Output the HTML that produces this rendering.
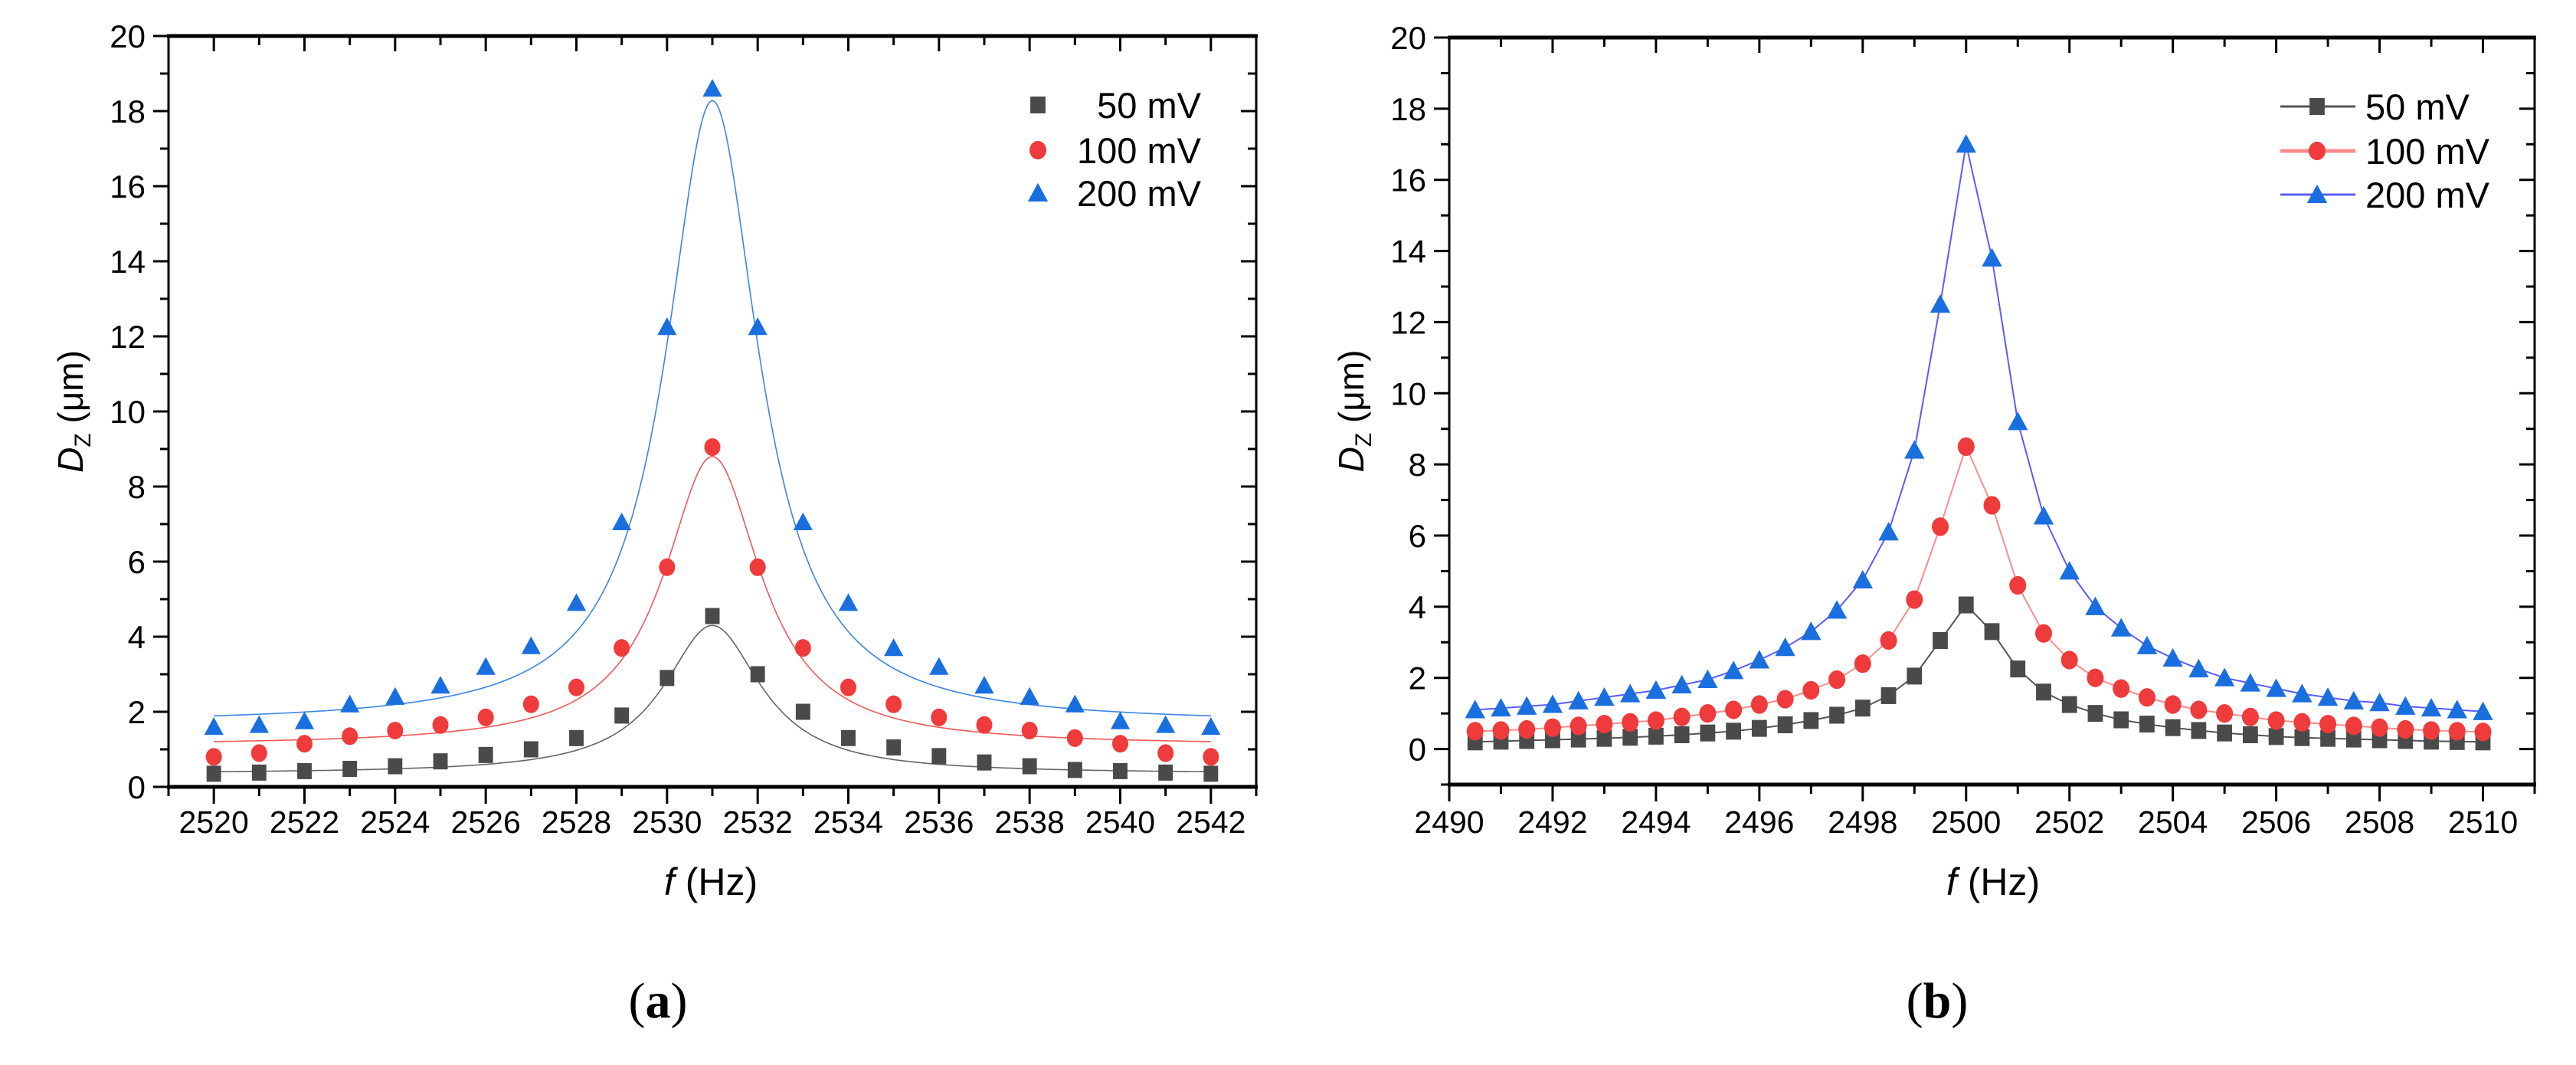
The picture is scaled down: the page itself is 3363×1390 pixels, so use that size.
<!DOCTYPE html>
<html><head><meta charset="utf-8"><style>
html,body{margin:0;padding:0;background:#fff;}
svg{display:block;font-family:"Liberation Sans",Arial,sans-serif;}
</style></head><body>
<svg id="fig" width="3363" height="1390" viewBox="0 0 3363 1390" xmlns="http://www.w3.org/2000/svg"></svg>
<script>
// ---------- Panel (a) data ----------
const freqA = [2520,2521,2522,2523,2524,2525,2526,2527,2528,2529,2530,2531,2532,2533,2534,2535,2536,2537,2538,2539,2540,2541,2542];
const a50 = [0.35,0.38,0.42,0.48,0.55,0.68,0.85,1.0,1.3,1.9,2.9,4.55,3.0,2.0,1.3,1.05,0.82,0.65,0.55,0.45,0.42,0.38,0.35];
const a100 = [0.8,0.9,1.15,1.35,1.5,1.65,1.85,2.2,2.65,3.7,5.85,9.05,5.85,3.7,2.65,2.2,1.85,1.65,1.5,1.3,1.15,0.9,0.8];
const a200 = [1.6,1.65,1.75,2.2,2.4,2.7,3.2,3.75,4.9,7.05,12.25,18.6,12.25,7.05,4.9,3.7,3.2,2.7,2.4,2.2,1.75,1.65,1.6];
// Lorentzian fit parameters [y0, A, f0, gamma]
const fit50 = [0.35,3.95,2531,1.3];
const fit100 = [1.1,7.7,2531,1.3];
const fit200 = [1.68,16.6,2531,1.25];
const xTicksA = [2520,2522,2524,2526,2528,2530,2532,2534,2536,2538,2540,2542];
const yTicks = [0,2,4,6,8,10,12,14,16,18,20];
// ---------- Panel (b) data ----------
const freqB = [2490.5,2491,2491.5,2492,2492.5,2493,2493.5,2494,2494.5,2495,2495.5,2496,2496.5,2497,2497.5,2498,2498.5,2499,2499.5,2500,2500.5,2501,2501.5,2502,2502.5,2503,2503.5,2504,2504.5,2505,2505.5,2506,2506.5,2507,2507.5,2508,2508.5,2509,2509.5,2510];
const b50 = [0.2,0.22,0.24,0.26,0.28,0.3,0.33,0.36,0.4,0.45,0.5,0.58,0.68,0.8,0.95,1.15,1.5,2.05,3.05,4.05,3.3,2.25,1.6,1.25,1.0,0.82,0.7,0.6,0.52,0.45,0.4,0.35,0.32,0.3,0.28,0.26,0.24,0.22,0.21,0.2];
const b100 = [0.5,0.52,0.55,0.6,0.65,0.7,0.75,0.8,0.9,1.0,1.1,1.25,1.4,1.65,1.95,2.4,3.05,4.2,6.25,8.5,6.85,4.6,3.25,2.5,2.0,1.7,1.45,1.25,1.1,1.0,0.9,0.8,0.75,0.7,0.65,0.6,0.55,0.52,0.5,0.48];
const b200 = [1.1,1.15,1.2,1.25,1.35,1.45,1.55,1.65,1.8,1.95,2.2,2.5,2.85,3.3,3.9,4.75,6.1,8.4,12.5,17.0,13.8,9.2,6.55,5.0,4.0,3.4,2.9,2.55,2.25,2.0,1.85,1.7,1.55,1.45,1.35,1.3,1.2,1.15,1.1,1.05];
const xTicksB = [2490,2492,2494,2496,2498,2500,2502,2504,2506,2508,2510];
const legendLabels = ["50 mV","100 mV","200 mV"];

const NS="http://www.w3.org/2000/svg";
const svg=document.getElementById('fig');
function el(tag,attrs,parent,text){const e=document.createElementNS(NS,tag);for(const k in attrs)e.setAttribute(k,attrs[k]);if(text!==undefined)e.textContent=text;(parent||svg).appendChild(e);return e;}

const C50="#4a4a4a",C100="#ef3b3b",C200="#1a6fdf";

function marker(g,type,cx,cy,color,s){
  let m;
  if(type==='sq'){m=el('rect',{x:cx-s*0.45,y:cy-s*0.5,width:s*0.9,height:s,fill:color},g);}
  else if(type==='ci'){m=el('ellipse',{cx:cx,cy:cy,rx:s*0.5,ry:s*0.55,fill:color},g);}
  else {m=el('polygon',{points:`${cx},${cy-s*0.6} ${cx+s*0.6},${cy+s*0.5} ${cx-s*0.6},${cy+s*0.5}`,fill:color},g);}
  return m;
}

function panel(cfg){
  const g=el('g',{});
  
  
  const X=v=>cfg.L+(v-cfg.xmin)/(cfg.xmax-cfg.xmin)*(cfg.R-cfg.L);
  const Y=v=>cfg.B-(v-cfg.ymin)/(cfg.ymax-cfg.ymin)*(cfg.B-cfg.T);
  // frame
  const fr=el('rect',{x:cfg.L,y:cfg.T,width:cfg.R-cfg.L,height:cfg.B-cfg.T,fill:'none',stroke:'#000','stroke-width':3},g);
  
  
  el('line',{x1:cfg.L-2,x2:cfg.R+2,y1:cfg.T,y2:cfg.T,stroke:'#000','stroke-width':5},g);
  el('line',{x1:cfg.L-2,x2:cfg.R+2,y1:cfg.B,y2:cfg.B,stroke:'#000','stroke-width':5},g);
  // x ticks
  const xa=el('g',{},g);
  
  
  for(let v=Math.ceil(cfg.xmin);v<=cfg.xmax;v++){
    const major=xTicksMajor(cfg,v);
    const x=X(v);
    el('line',{x1:x,x2:x,y1:cfg.B,y2:cfg.B+(major?22:12),stroke:'#000','stroke-width':3},xa);
    el('line',{x1:x,x2:x,y1:cfg.T,y2:cfg.T+(major?20:12),stroke:'#000','stroke-width':3},xa);
  }
  cfg.xticks.forEach(v=>{
    const t=el('text',{x:X(v),y:1087,'font-size':41,'text-anchor':'middle',fill:'#000'},xa,String(v));
    
    
  });
  // y ticks
  const ya=el('g',{},g);
  
  
  for(let v=Math.ceil(cfg.ymin);v<=cfg.ymax;v++){
    const major=v%2===0, y=Y(v);
    el('line',{x1:cfg.L-(major?20:11),x2:cfg.L,y1:y,y2:y,stroke:'#000','stroke-width':3},ya);
    el('line',{x1:cfg.R-(major?20:11),x2:cfg.R,y1:y,y2:y,stroke:'#000','stroke-width':3},ya);
  }
  yTicks.forEach(v=>{
    const t=el('text',{x:cfg.L-30,y:Y(v)+15,'font-size':42,'text-anchor':'end',fill:'#000'},ya,String(v));
    
    
  });
  // axis titles
  const yt=el('text',{transform:`translate(${cfg.ytx},${(cfg.T+cfg.B)/2}) rotate(-90)`,'font-size':46,'text-anchor':'middle',fill:'#000'},g);
  
  
  el('tspan',{'font-style':'italic'},yt,'D');
  el('tspan',{'font-size':30,dy:10},yt,'Z');
  el('tspan',{dy:-10},yt,' (μm)');
  const xt=el('text',{x:cfg.xtx,y:1168,'font-size':50,'text-anchor':'middle',fill:'#000'},g);
  
  
  el('tspan',{'font-style':'italic'},xt,'f');
  el('tspan',{},xt,' (Hz)');
  const cap=el('text',{x:cfg.capx,y:1328,'font-size':66,'text-anchor':'middle','font-family':'Liberation Serif, serif',fill:'#000'},g);
  
  
  el('tspan',{},cap,'(');
  el('tspan',{'font-weight':'bold'},cap,cfg.cap);
  el('tspan',{},cap,')');
  return {g,X,Y};
}
function xTicksMajor(cfg,v){return cfg.xticks.indexOf(v)>=0;}

// ---- Panel A ----
const cfgA={name:'panel-a',L:220,R:1640,T:47,B:1027,xmin:2519,xmax:2543,ymin:0,ymax:20,xticks:xTicksA,ytx:108,xtx:928,capx:859,cap:'a'};
const pA=panel(cfgA);
const seriesA=[[a50,fit50,C50,'sq','series-50mv'],[a100,fit100,C100,'ci','series-100mv'],[a200,fit200,C200,'tr','series-200mv']];
seriesA.forEach(([vals,p,col,mk,nm])=>{
  const sg=el('g',{},pA.g);
  
  
  let d='';
  for(let f=freqA[0];f<=freqA[freqA.length-1]+1e-9;f+=0.05){
    const y=p[0]+p[1]/(1+Math.pow((f-p[2])/p[3],2));
    d+=(d?'L':'M')+pA.X(f).toFixed(1)+','+pA.Y(y).toFixed(1);
  }
  const fl=el('path',{d:d,fill:'none',stroke:col,'stroke-width':1.6,opacity:0.85},sg);
  
  
  vals.forEach((v,i)=>{
    const m=marker(sg,mk,pA.X(freqA[i]),pA.Y(v),col,21);
    
    
  });
});
// legend A
const lgA=el('g',{},pA.g);


[[C50,'sq',137],[C100,'ci',196],[C200,'tr',252]].forEach(([col,mk,y],i)=>{
  const eg=el('g',{},lgA);
  
  
  marker(eg,mk,1355,y,col,22);
  el('text',{x:1568,y:y+17,'font-size':47,'text-anchor':'end',fill:'#000'},eg,legendLabels[i]);
});

// ---- Panel B ----
const cfgB={name:'panel-b',L:1892,R:3309,T:49,B:1024,xmin:2490,xmax:2511,ymin:-1,ymax:20,xticks:xTicksB,ytx:1780,xtx:2602,capx:2529,cap:'b'};
const pB=panel(cfgB);
const seriesB=[[b50,C50,'#555','sq','series-50mv'],[b100,C100,'#ff8a8a','ci','series-100mv'],[b200,C200,'#5b5bff','tr','series-200mv']];
seriesB.forEach(([vals,col,lc,mk,nm])=>{
  const sg=el('g',{},pB.g);
  
  
  const pts=vals.map((v,i)=>pB.X(freqB[i]).toFixed(1)+','+pB.Y(v).toFixed(1)).join(' ');
  const ln=el('polyline',{points:pts,fill:'none',stroke:lc,'stroke-width':2},sg);
  
  
  vals.forEach((v,i)=>{
    const m=marker(sg,mk,pB.X(freqB[i]),pB.Y(v),col,22);
    
    
  });
});
const lgB=el('g',{},pB.g);


[[C50,'#555','sq',139],[C100,'#ff8a8a','ci',197],[C200,'#5b5bff','tr',254]].forEach(([col,lc,mk,y],i)=>{
  const eg=el('g',{},lgB);
  
  
  el('line',{x1:2977,x2:3075,y1:y,y2:y,stroke:lc,'stroke-width':i===1?5:3},eg);
  marker(eg,mk,3025,y,col,22);
  el('text',{x:3088,y:y+17,'font-size':47,fill:'#000'},eg,legendLabels[i]);
});
</script>
</body></html>
